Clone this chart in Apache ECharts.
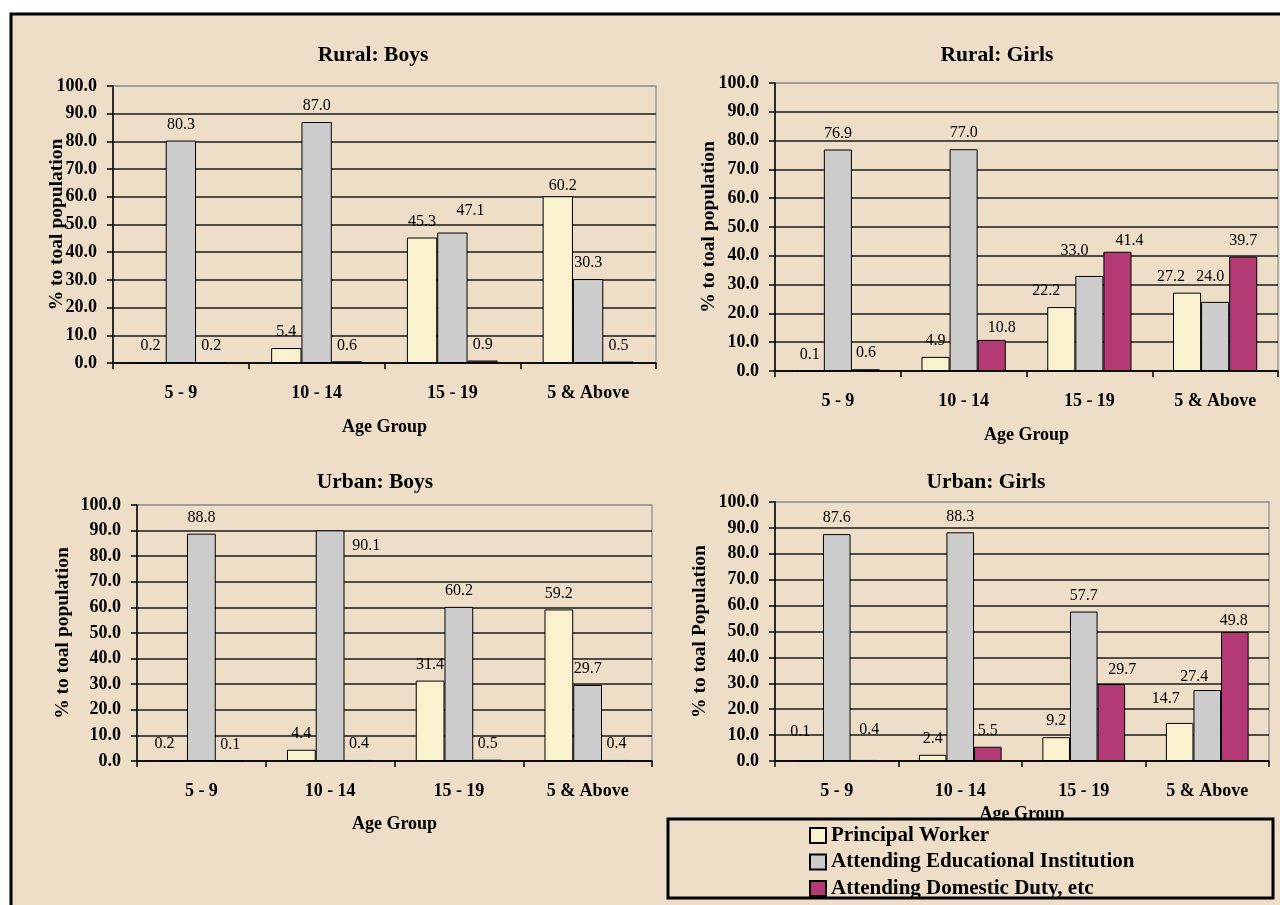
<!DOCTYPE html>
<html>
<head>
<meta charset="utf-8">
<title>Activity status of children by age group</title>
<script src="https://cdn.jsdelivr.net/npm/echarts@6/dist/echarts.min.js"></script>
<style>
  html, body { margin: 0; padding: 0; background: #ffffff; }
  #chart { width: 1280px; height: 905px; }
</style>
</head>
<body>
<div id="chart"></div>
<script>
// Age groups on the category axis
const categories = ['5 - 9', '10 - 14', '15 - 19', '5 & Above'];
const yTicks = [0, 10, 20, 30, 40, 50, 60, 70, 80, 90, 100];

const seriesNames = ['Principal Worker', 'Attending Educational Institution', 'Attending Domestic Duty, etc'];

// Rural: Boys
const ruralBoysWorker   = [0.2, 5.4, 45.3, 60.2];
const ruralBoysEdu      = [80.3, 87.0, 47.1, 30.3];
const ruralBoysDomestic = [0.2, 0.6, 0.9, 0.5];

// Rural: Girls
const ruralGirlsWorker   = [0.1, 4.9, 22.2, 27.2];
const ruralGirlsEdu      = [76.9, 77.0, 33.0, 24.0];
const ruralGirlsDomestic = [0.6, 10.8, 41.4, 39.7];

// Urban: Boys
const urbanBoysWorker   = [0.2, 4.4, 31.4, 59.2];
const urbanBoysEdu      = [88.8, 90.1, 60.2, 29.7];
const urbanBoysDomestic = [0.1, 0.4, 0.5, 0.4];

// Urban: Girls
const urbanGirlsWorker   = [0.1, 2.4, 9.2, 14.7];
const urbanGirlsEdu      = [87.6, 88.3, 57.7, 27.4];
const urbanGirlsDomestic = [0.4, 5.5, 29.7, 49.8];

const SERIF = '"Liberation Serif", "Times New Roman", serif';
const BG = '#EEDEC8';
const colors = ['#FAF1CE', '#CCCCCC', '#B43A75'];

// Hand-placed value labels that sit beside crowded bars: key "panel-series-index" -> [dx, dy]
const labelNudges = {
  '0-1-2': [18, -6], '0-0-3': [5, 6],
  '1-2-1': [10, 4], '1-0-2': [-15, 0], '1-1-2': [-15, -9], '1-2-2': [12, 5], '1-0-3': [-16, 0], '1-1-3': [-5, -9],
  '2-0-0': [-8, 0], '2-1-1': [36, 31],
  '3-0-0': [-9, -13], '3-2-0': [5, -14], '3-2-2': [11, 2], '3-0-3': [-14, -8], '3-1-3': [-13, 3], '3-2-3': [-1, 5]
};

// Panel layout (grid boxes in pixels)
const panels = [
  { title: 'Rural: Boys',  yName: '% to toal population', grid: { left: 113, right: 624, top: 86,  bottom: 542 },
    titlePos: { left: 368, top: 39 },  yNameGap: 46, xNameGap: 55,
    data: [ruralBoysWorker, ruralBoysEdu, ruralBoysDomestic] },
  { title: 'Rural: Girls', yName: '% to toal population', grid: { left: 775, right: 2,   top: 83,  bottom: 534 },
    titlePos: { left: 992, top: 39 },  yNameGap: 56, xNameGap: 55,
    data: [ruralGirlsWorker, ruralGirlsEdu, ruralGirlsDomestic] },
  { title: 'Urban: Boys',  yName: '% to toal population', grid: { left: 137, right: 628, top: 505, bottom: 144 },
    titlePos: { left: 370, top: 466 }, yNameGap: 64, xNameGap: 54,
    data: [urbanBoysWorker, urbanBoysEdu, urbanBoysDomestic] },
  { title: 'Urban: Girls', yName: '% to toal Population', grid: { left: 775, right: 11,  top: 502, bottom: 144 },
    titlePos: { left: 981, top: 466 }, yNameGap: 65.5, xNameGap: 44,
    data: [urbanGirlsWorker, urbanGirlsEdu, urbanGirlsDomestic] }
];

const gridLineColors = yTicks.map(function (t) { return t === 100 ? '#9a9a9a' : '#1a1a1a'; });

const option = {
  animation: false,
  backgroundColor: 'transparent',
  textStyle: { fontFamily: SERIF },
  title: panels.map(function (p) {
    return {
      text: p.title,
      left: p.titlePos.left,
      top: p.titlePos.top,
      textAlign: 'center',
      textStyle: { fontFamily: SERIF, fontWeight: 'bold', fontSize: 21.5, color: '#000' }
    };
  }),
  legend: {
    orient: 'vertical',
    left: 804,
    top: 820,
    z: 5,
    itemWidth: 16,
    itemHeight: 15,
    itemGap: 5.5,
    icon: 'rect',
    data: seriesNames,
    textStyle: { fontFamily: SERIF, fontWeight: 'bold', fontSize: 21, color: '#000' }
  },
  graphic: [
    // page frame
    { type: 'rect', z: -100, shape: { x: 11, y: 14, width: 1280, height: 900 },
      style: { fill: BG, stroke: '#000', lineWidth: 3 } },
    // legend box, drawn over the axis name that runs into it
    { type: 'rect', z: 3, shape: { x: 668, y: 819, width: 605, height: 79 },
      style: { fill: BG, stroke: '#000', lineWidth: 3 } }
  ],
  grid: panels.map(function (p) {
    return Object.assign({ show: true, borderColor: '#9a9a9a', borderWidth: 1.5, backgroundColor: 'transparent' }, p.grid);
  }),
  xAxis: panels.map(function (p, i) {
    return {
      type: 'category',
      gridIndex: i,
      data: categories,
      name: 'Age Group',
      nameLocation: 'middle',
      nameGap: p.xNameGap,
      nameMoveOverlap: false,
      nameTextStyle: { fontFamily: SERIF, fontWeight: 'bold', fontSize: 18, color: '#000' },
      axisLine: { lineStyle: { color: '#000', width: 1.5 } },
      axisTick: { show: true, length: 6, lineStyle: { color: '#000', width: 1.5 } },
      axisLabel: { margin: 21, fontFamily: SERIF, fontWeight: 'bold', fontSize: 18, color: '#000' },
      splitLine: { show: false }
    };
  }),
  yAxis: panels.map(function (p, i) {
    return {
      type: 'value',
      gridIndex: i,
      min: 0,
      max: 100,
      interval: 10,
      name: p.yName,
      nameLocation: 'middle',
      nameGap: p.yNameGap,
      nameMoveOverlap: false,
      nameTextStyle: { fontFamily: SERIF, fontWeight: 'bold', fontSize: 19.5, color: '#000' },
      axisLine: { show: true, lineStyle: { color: '#000', width: 1.5 } },
      axisTick: { show: true, length: 6, lineStyle: { color: '#000', width: 1.5 } },
      axisLabel: {
        margin: 16, fontFamily: SERIF, fontWeight: 'bold', fontSize: 18, color: '#000',
        formatter: function (v) { return v.toFixed(1); }
      },
      splitLine: { show: true, lineStyle: { color: gridLineColors, width: 1.5 } }
    };
  }),
  series: []
};

panels.forEach(function (p, i) {
  p.data.forEach(function (values, k) {
    option.series.push({
      type: 'bar',
      name: seriesNames[k],
      xAxisIndex: i,
      yAxisIndex: i,
      barGap: '0%',
      barCategoryGap: '33%',
      itemStyle: { color: colors[k], borderColor: '#000', borderWidth: 1 },
      label: {
        show: true,
        position: 'top',
        distance: 8,
        fontFamily: SERIF,
        fontSize: 16,
        color: '#000',
        formatter: function (d) { return d.value.toFixed(1); }
      },
      data: values.map(function (v, j) {
        const nudge = labelNudges[i + '-' + k + '-' + j];
        return nudge ? { value: v, label: { offset: nudge } } : v;
      })
    });
  });
});

const chart = echarts.init(document.getElementById('chart'), null, { renderer: 'canvas' });
chart.setOption(option);
</script>
</body>
</html>
